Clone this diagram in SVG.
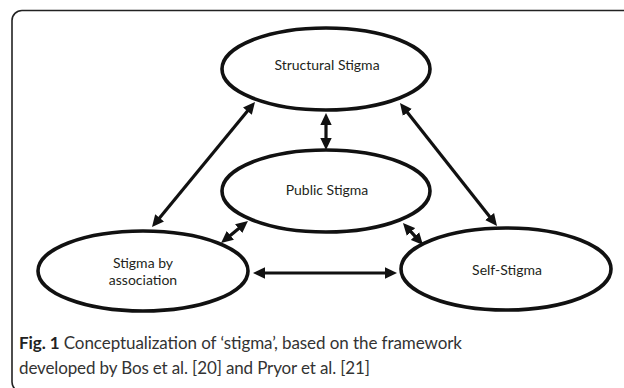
<svg xmlns="http://www.w3.org/2000/svg" width="624" height="388" viewBox="0 0 624 388">
  <style>
    .node ellipse { fill: #ffffff; stroke: #111111; stroke-width: 3.6; }
    .node text { font-family: Lato, "Open Sans", sans-serif; font-size: 14px; fill: #231f20; text-anchor: middle; }
    .conn line { stroke: #111111; stroke-width: 3.2; marker-start: url(#head); marker-end: url(#head); }
    .frame { fill: none; stroke: #222222; stroke-width: 1.6; }
    .caption { font-family: Lato, "Open Sans", sans-serif; font-size: 17px; fill: #333333; }
    .caption .fig { font-weight: bold; fill: #222222; }
  </style>
  <defs>
    <marker id="head" viewBox="0 0 12 12" refX="6" refY="6" markerWidth="12" markerHeight="12" markerUnits="userSpaceOnUse" orient="auto-start-reverse">
      <path d="M0,0.3 L12,6 L0,11.7 z" fill="#111111"/>
    </marker>
  </defs>
  <rect width="624" height="388" fill="#ffffff"/>

  <!-- figure panel border -->
  <path class="frame" d="M624,10.5 H22 A10,10 0 0 0 12,20.5 V382 A10,10 0 0 0 22,392"/>

  <!-- connectors -->
  <g id="connectors" class="conn">
    <line x1="251.2" y1="106.6" x2="155.8" y2="222.4"/>
    <line x1="403.7" y1="107.7" x2="493.3" y2="221.3"/>
    <line x1="326" y1="119" x2="326" y2="144"/>
    <line x1="243.3" y1="224.8" x2="225.7" y2="239.2"/>
    <line x1="407" y1="227.4" x2="419" y2="240.6"/>
    <line x1="259" y1="273" x2="391" y2="273"/>
  </g>

  <g id="structural-stigma" class="node">
    <ellipse cx="326" cy="69" rx="104" ry="41"/>
    <text x="327" y="70">Structural Stigma</text>
  </g>
  <g id="public-stigma" class="node">
    <ellipse cx="326" cy="191" rx="104" ry="41"/>
    <text x="327" y="195">Public Stigma</text>
  </g>
  <g id="stigma-by-association" class="node">
    <ellipse cx="143" cy="271" rx="105" ry="40"/>
    <text x="143" y="268">Stigma by</text>
    <text x="143" y="285">association</text>
  </g>
  <g id="self-stigma" class="node">
    <ellipse cx="506" cy="269" rx="105" ry="41"/>
    <text x="507" y="275">Self-Stigma</text>
  </g>

  <text class="caption" x="19" y="349" textLength="443" lengthAdjust="spacing"><tspan class="fig">Fig. 1</tspan> Conceptualization of ‘stigma’, based on the framework</text>
  <text class="caption" x="19" y="374" textLength="351" lengthAdjust="spacing">developed by Bos et al. [20] and Pryor et al. [21]</text>
</svg>
